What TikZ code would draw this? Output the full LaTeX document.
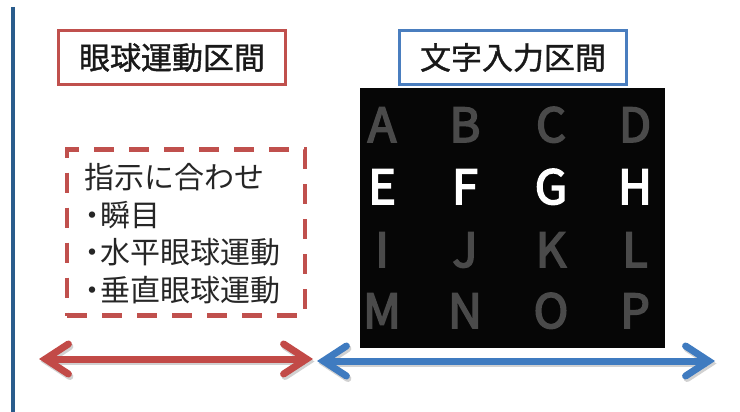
\documentclass[tikz,border=0pt]{standalone}
\usepackage{fontspec}
\newfontfamily\cjk{Noto Sans CJK JP}
\newfontfamily\cjkmed[FakeBold=1.2]{Noto Sans CJK JP}
\newfontfamily\latmed[FakeBold=3.5]{Noto Sans CJK JP}
\usetikzlibrary{arrows.meta}
\definecolor{boxred}{HTML}{C0504D}
\definecolor{boxblue}{HTML}{4A7EBF}
\definecolor{arrred}{HTML}{C24A47}
\definecolor{arrblue}{HTML}{3F7BC0}
\definecolor{vline}{HTML}{2A5C8C}
\definecolor{dimgray}{HTML}{4A4A4A}
\definecolor{panel}{HTML}{060606}
\tikzset{
  titlebox/.style={draw, line width=3.5pt, minimum width=227pt, minimum height=54pt, inner sep=0pt,
    font=\cjkmed\fontsize{31}{36}\selectfont, text=black!90},
  listline/.style={anchor=base west, inner sep=0pt, font=\cjk\fontsize{30}{36}\selectfont, text=black!85},
  letter/.style={anchor=base, inner sep=0pt, font=\latmed\fontsize{47}{50}\selectfont},
  dimletter/.style={letter, text=dimgray},
  litletter/.style={letter, text=white},
  bigarrow/.style={line width=7pt, {Straight Barb[length=23pt, width=30pt, line cap=round]}-{Straight Barb[length=23pt, width=30pt, line cap=round]}},
  arrshadow/.style={bigarrow, draw=black, opacity=0.18}
}
\begin{document}
\begin{tikzpicture}[x=1pt,y=-1pt]
\useasboundingbox (0,0) rectangle (740,412);
% left vertical line
\coordinate (vtop) at (13,7);
\coordinate (vbot) at (13,412);
\draw[vline, line width=4pt] (vtop) -- (vbot);
% title boxes
\node[titlebox, draw=boxred] (t1) at (172,57.5) {眼球運動区間};
\node[titlebox, draw=boxblue] (t2) at (513,57.5) {文字入力区間};
% dashed box
\node[draw=boxred, dash pattern=on 20pt off 15pt, line width=4.5pt, minimum width=238pt, minimum height=166pt, inner sep=0pt] (db) at (186,232.5) {};
\node[listline] (l1) at (84,189) {指示に合わせ};
\node[listline] (l2) at (84,226) {\makebox[16pt][c]{・}瞬目};
\node[listline] (l3) at (84,263) {\makebox[16pt][c]{・}水平眼球運動};
\node[listline] (l4) at (84,301) {\makebox[16pt][c]{・}垂直眼球運動};
% letter panel
\fill[panel] (360,88) rectangle (665,348);
\node[dimletter] (A) at (382,142) {A};
\node[dimletter] (B) at (465,142) {B};
\node[dimletter] (C) at (551,142) {C};
\node[dimletter] (D) at (635,142) {D};
\node[litletter] (E) at (382,204) {E};
\node[litletter] (F) at (465,204) {F};
\node[litletter] (G) at (551,204) {G};
\node[litletter] (H) at (635,204) {H};
\node[dimletter] (I) at (382,267) {I};
\node[dimletter] (J) at (465,267) {J};
\node[dimletter] (K) at (551,267) {K};
\node[dimletter] (L) at (635,267) {L};
\node[dimletter] (M) at (382,328) {M};
\node[dimletter] (N) at (465,328) {N};
\node[dimletter] (O) at (551,328) {O};
\node[dimletter] (P) at (635,328) {P};
% arrows
\coordinate (ra) at (39,359);
\coordinate (rb) at (313,359);
\coordinate (ba) at (317,361);
\coordinate (bb) at (715,361);
\draw[arrshadow, transform canvas={shift={(1.5pt,-2.5pt)}}] (ra) -- (rb);
\draw[arrshadow, transform canvas={shift={(1.5pt,-2.5pt)}}] (ba) -- (bb);
\draw[bigarrow, arrred] (ra) -- (rb);
\draw[bigarrow, arrblue] (ba) -- (bb);
\end{tikzpicture}
\end{document}
